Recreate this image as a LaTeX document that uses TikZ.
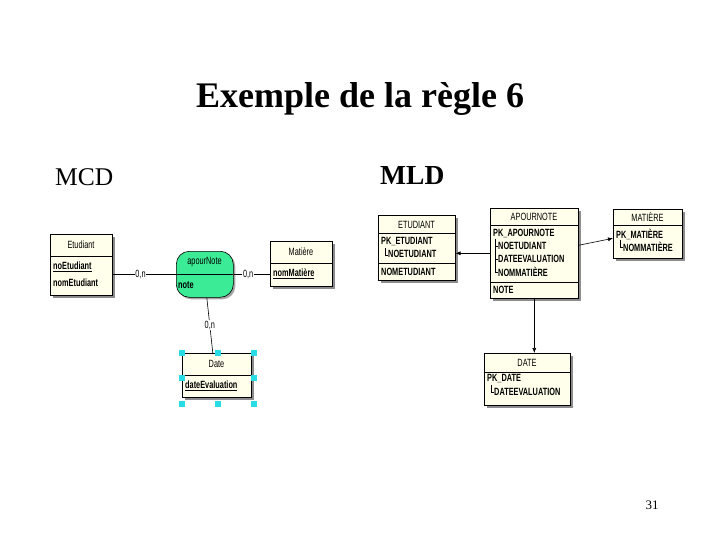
\documentclass[tikz,border=0pt]{standalone}
\usepackage{fontspec}
\setmainfont{Liberation Serif}
\newfontfamily\bx[FakeStretch=0.7]{Liberation Sans}
\usetikzlibrary{shadows,arrows.meta}
\definecolor{boxfill}{RGB}{255,255,236}
\definecolor{assoc}{RGB}{60,235,150}
\definecolor{handle}{RGB}{40,220,230}
\tikzset{
  tbl/.style={draw=black, line width=0.6pt, fill=boxfill, anchor=north west, inner sep=0pt,
    general shadow={fill=black!45, shadow xshift=3pt, shadow yshift=-3pt}},
  hd/.style={font=\bx\fontsize{10.5}{12}\selectfont, inner sep=0pt},
  attr/.style={font=\bx\bfseries\fontsize{10.5}{12}\selectfont, anchor=west, inner sep=0pt},
  card/.style={font=\bx\fontsize{10.5}{12}\selectfont, fill=white, inner sep=0.6pt},
  sep/.style={line width=0.6pt},
  fk/.style={-{Latex[length=5pt,width=4pt]}, line width=0.6pt},
  lnk/.style={line width=0.6pt},
  hnd/.style={fill=handle}
}
\begin{document}
\begin{tikzpicture}[x=1pt,y=-1pt]
\useasboundingbox (0,0) rectangle (720,540);
% titles
\node[font=\fontsize{36}{40}\selectfont\bfseries, anchor=base, inner sep=0pt] (title) at (360,108) {Exemple de la règle 6};
\node[font=\fontsize{25.5}{29}\selectfont, anchor=base west, inner sep=0pt] (mcd) at (55,186) {MCD};
\node[font=\fontsize{27.5}{31}\selectfont\bfseries, anchor=base west, inner sep=0pt] (mld) at (380,185) {MLD};
\node[font=\fontsize{13}{15}\selectfont, anchor=base, inner sep=0pt] (pg) at (652,509) {31};

% ===== MCD =====
\node[tbl, minimum width=62pt, minimum height=61pt] (etu) at (50,234) {};
\draw[sep] (50,256) -- (112,256);
\node[hd] (etuh) at (81,245) {Etudiant};
\node[attr] (etua1) at (53,266.5) {\underline{noEtudiant}};
\node[attr] (etua2) at (53,282.5) {nomEtudiant};

\node[draw=black, line width=0.6pt, fill=assoc, rounded corners=13pt, minimum width=57pt, minimum height=46pt,
  anchor=north west, inner sep=0pt, general shadow={fill=black!35, shadow xshift=2pt, shadow yshift=-2pt}] (apn) at (176,251) {};
\draw[sep] (176,274) -- (233,274);
\node[hd] (apnh) at (204.5,262) {apourNote};
\node[attr] (apna) at (178,285) {note};

\node[tbl, minimum width=62pt, minimum height=45pt] (mat) at (270,241) {};
\draw[sep] (270,263) -- (332,263);
\node[hd] (math) at (301,252) {Matière};
\node[attr] (mata) at (273,274) {\underline{nomMatière}};

\node[tbl, minimum width=69pt, minimum height=44pt] (dat) at (182,353) {};
\draw[sep] (182,375) -- (251,375);
\node[hd] (dath) at (216.5,364) {Date};
\node[attr] (data) at (185,386) {\underline{dateEvaluation}};

% selection handles
\foreach \hx/\hy in {182/353, 218/353, 254/353, 182/378, 254/378, 182/404, 218/404, 254/404}
  \fill[hnd] (\hx-3,\hy-3) rectangle (\hx+3,\hy+3);

% MCD links
\draw[lnk] (etu.east |- apn.west) -- node[card, pos=0.44] {0,n} (apn.west);
\draw[lnk] (apn.east) -- node[card, pos=0.4] {0,n} (apn.east -| mat.west);
\draw[lnk] ([xshift=2pt]apn.south) -- node[card, pos=0.5] {0,n} ([xshift=-4pt]dat.north);

% ===== MLD =====
\node[tbl, minimum width=77pt, minimum height=65pt] (etd) at (378,215) {};
\draw[sep] (378,233) -- (455,233);
\draw[sep] (378,263) -- (455,263);
\node[hd] (etdh) at (416.5,224.5) {ETUDIANT};
\node[attr] (etdk) at (381,242) {PK\_ETUDIANT};
\draw[line width=0.5pt] (385,248) -- (385,255) -- (388,255);
\node[attr] (etdk1) at (388,254) {NOETUDIANT};
\node[attr] (etda) at (381,271.5) {NOMETUDIANT};

\node[tbl, minimum width=88pt, minimum height=90pt] (apr) at (490,208) {};
\draw[sep] (490,225) -- (578,225);
\draw[sep] (490,282) -- (578,282);
\node[hd] (aprh) at (534,216.5) {APOURNOTE};
\node[attr] (aprk) at (493,233) {PK\_APOURNOTE};
\draw[line width=0.5pt] (495,239) -- (495,272) -- (498,272);
\draw[line width=0.5pt] (495,246) -- (498,246);
\draw[line width=0.5pt] (495,259) -- (498,259);
\node[attr] (aprk1) at (498,246) {NOETUDIANT};
\node[attr] (aprk2) at (498,259) {DATEEVALUATION};
\node[attr] (aprk3) at (498,272) {NOMMATIÈRE};
\node[attr] (apra) at (493,290) {NOTE};

\node[tbl, minimum width=69pt, minimum height=49pt] (mtr) at (613,209) {};
\draw[sep] (613,225) -- (682,225);
\node[hd] (mtrh) at (647.5,217) {MATIÈRE};
\node[attr] (mtrk) at (616,234) {PK\_MATIÈRE};
\draw[line width=0.5pt] (620,240) -- (620,247.5) -- (623,247.5);
\node[attr] (mtrk1) at (623,247) {NOMMATIÈRE};

\node[tbl, minimum width=86pt, minimum height=52pt] (dte) at (484,353) {};
\draw[sep] (484,372) -- (570,372);
\node[hd] (dteh) at (527,362.5) {DATE};
\node[attr] (dtek) at (487,379) {PK\_DATE};
\draw[line width=0.5pt] (491,384.5) -- (491,392) -- (494,392);
\node[attr] (dtek1) at (494,391.5) {DATEEVALUATION};

% MLD references
\draw[fk] (apr.west) -- (apr.west -| etd.east);
\draw[fk] ([yshift=8pt]apr.east) -- ([yshift=-4.5pt]mtr.west);
\draw[fk] (apr.south) -- (apr.south |- dte.north);
\end{tikzpicture}
\end{document}
